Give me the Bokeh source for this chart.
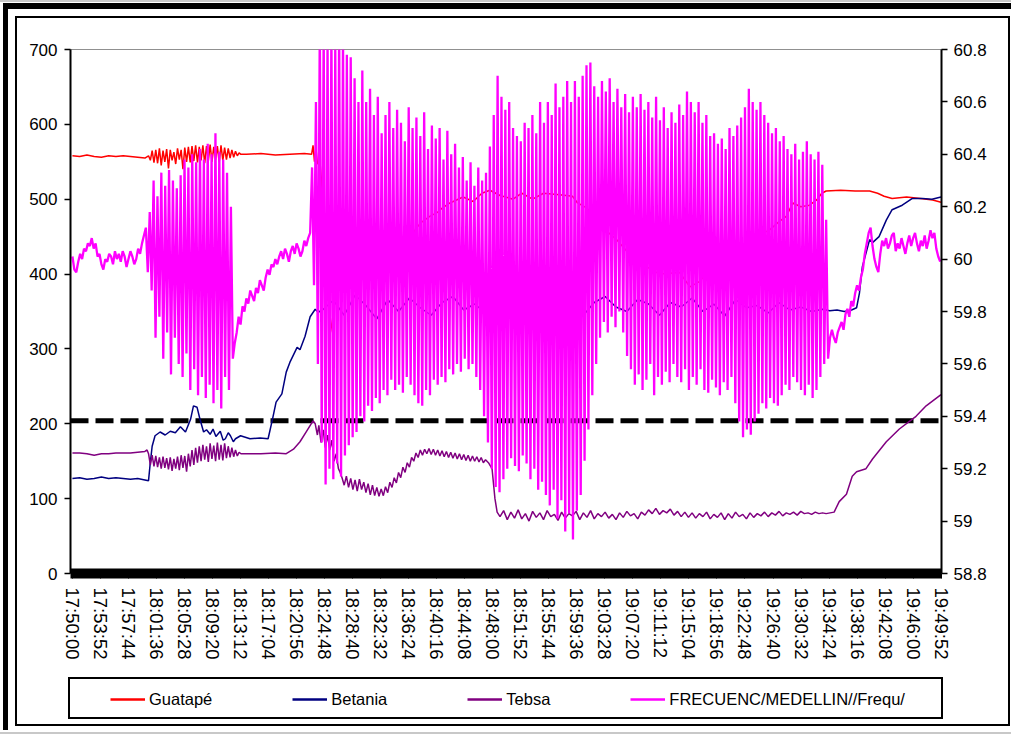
import numpy as np
from bokeh.plotting import figure
from bokeh.layouts import column
from bokeh.models import (Range1d, LinearAxis, FixedTicker, NumeralTickFormatter, Span,
                          Legend, LegendItem)
from bokeh.embed import file_html
from bokeh.resources import INLINE

# ---------------- data ----------------
START = "17:50:00"
tick_labels = ["17:50:00", "17:53:52", "17:57:44", "18:01:36", "18:05:28", "18:09:20", "18:13:12",
               "18:17:04", "18:20:56", "18:24:48", "18:28:40", "18:32:32", "18:36:24", "18:40:16",
               "18:44:08", "18:48:00", "18:51:52", "18:55:44", "18:59:36", "19:03:28", "19:07:20",
               "19:11:12", "19:15:04", "19:18:56", "19:22:48", "19:26:40", "19:30:32", "19:34:24",
               "19:38:16", "19:42:08", "19:46:00", "19:49:52"]
left_ticks = [0, 100, 200, 300, 400, 500, 600, 700]
right_ticks = [58.8, 59.0, 59.2, 59.4, 59.6, 59.8, 60.0, 60.2, 60.4, 60.6, 60.8]
threshold_mw = 204

# Guatapé (MW) – minutes after 17:50
g_pre_t = [0, 1, 2, 3, 4, 5, 6, 7, 8, 9, 10]
g_pre_v = [558, 557, 559, 557, 556, 558, 557, 558, 557, 556, 555]
g_noise_t0, g_noise_dt = 10.5, 0.25
g_noise_v = [558, 552, 565, 549, 566, 548, 568, 545, 565, 550, 567, 541, 566, 552, 563, 547, 568, 553,
             566, 540, 569, 550, 570, 549, 571, 551, 572, 549, 570, 552, 572, 548, 571, 551, 573, 550,
             570, 553, 571, 549, 572, 552, 569, 553, 568, 555, 566, 556, 564, 558, 562, 560]
g_post_t = [24, 26, 28, 30, 32, 33, 33.2, 33.4, 33.6, 33.8, 34.2, 34.8, 35.3, 35.6, 35.9, 36.5, 37.6,
            38.5, 40, 41.1, 42, 43.5, 45, 47, 48, 49.3, 50.3, 51, 52.1, 53.9, 55.3, 56.5, 57.6, 59,
            60.8, 62, 63.5, 65, 67.2, 69, 69.7, 71, 72.5, 74, 75.1, 77, 79.2, 81, 83.8, 85.2, 86.5,
            88, 90, 92, 94, 96.2, 97.5, 98.5, 99.4, 100.5, 101.7, 102.7, 103.4, 104, 106, 108, 110,
            111.1, 112, 113.1, 115.1, 117, 118.7, 119.85]
g_post_v = [560, 561, 559, 560, 561, 560, 572, 550, 568, 548, 545, 470, 380, 322, 340, 395, 402,
            415, 420, 428, 422, 438, 446, 455, 468, 477, 482, 488, 495, 503, 497, 508, 512, 505,
            500, 508, 500, 508, 506, 504, 495, 488, 470, 455, 446, 425, 410, 400, 402, 383, 390,
            405, 420, 435, 448, 459, 470, 477, 495, 490, 492, 499, 508, 511, 512, 511, 511,
            508, 504, 501, 503, 501, 499, 496]

# Betania (MW)
b_pre_t = [0, 1, 2, 3, 4, 5, 6, 7, 8, 9, 10, 10.5, 10.7, 11.0, 11.4, 12.1, 12.8, 13.5, 14.2, 14.9,
           15.6, 16.3, 16.7, 17.2, 17.6, 18.1, 18.5, 19.0, 19.4, 19.8, 20.4, 20.8, 21.1, 21.5, 21.8,
           22.2, 22.5, 23.2, 24.5, 25.9, 27.0, 27.6, 28.1, 28.9, 29.5, 30.0, 31.0, 31.4, 32.1, 32.8,
           33.5, 33.9]
b_pre_v = [127, 128, 126, 127, 129, 127, 128, 127, 126, 127, 125, 124, 144, 170, 184, 189, 185, 190,
           188, 196, 189, 206, 224, 222, 206, 189, 192, 186, 193, 183, 190, 178, 180, 188, 184, 176,
           180, 184, 180, 181, 180, 206, 229, 240, 269, 282, 302, 299, 317, 343, 353, 349]
b_mid_t0, b_mid_dt = 34.5, 1.5
b_mid_v = [352, 365, 345, 372, 358, 340, 366, 350, 368, 355, 345, 362, 370, 352, 360, 348, 372, 358,
           366, 350, 375, 360, 355, 368, 345, 362, 370, 356, 350, 366, 360, 345, 362, 356, 368, 350,
           360, 344, 366, 355, 358, 348, 362, 352, 356, 350, 353]
b_post_t = [104.5, 105.5, 106.5, 107.5, 108.2, 108.6, 109.0, 110.0, 110.4, 111.3, 112.3, 113.1,
            114.5, 115.9, 117.3, 118.6, 119.85]
b_post_v = [351, 352, 350, 352, 355, 375, 410, 446, 442, 450, 472, 486, 492, 501, 501, 500, 503]

# Tebsa (MW)
t_pre_t = [0, 1, 2, 3, 4, 5, 6, 7, 8, 9, 10, 10.3]
t_pre_v = [161, 161, 160, 158, 160, 160, 161, 161, 161, 162, 163, 165]
t_n1_t0, t_n1_dt = 10.5, 0.25
t_n1_v = [160, 145, 158, 143, 157, 142, 155, 140, 156, 141, 154, 139, 155, 137, 153, 140, 156, 138,
          158, 141, 157, 136, 160, 143, 165, 145, 168, 148, 170, 150, 172, 152, 170, 149, 174, 153,
          171, 150, 175, 152, 172, 151, 174, 154, 170, 155, 168, 156, 165, 157, 162, 160]
t_mid_t = [24, 26, 28, 29.5, 30.5, 31.4, 32.3, 33.2, 33.5, 33.8, 34.0, 34.3, 34.6, 34.9, 35.2, 35.5,
           35.8, 36.1, 36.4, 36.7, 36.9]
t_mid_v = [160, 160, 161, 160, 166, 176, 190, 204, 200, 185, 198, 175, 192, 168, 185, 165, 178, 150,
           160, 140, 136]
t_n2_t0, t_n2_dt = 37.2, 0.3
t_n2_v = [128, 118, 130, 115, 127, 112, 125, 110, 126, 112, 122, 108, 120, 105, 118, 104, 115, 103,
          113, 104, 116, 108, 122, 115, 128, 121, 135, 128, 142, 135, 148, 142, 155, 150, 161, 155,
          165, 158, 166, 160, 167, 159, 166, 158, 165, 157, 164, 156, 163, 155, 162, 154, 161, 153,
          160, 152, 159, 151, 158, 150, 157, 150, 156, 149, 155, 148, 152]
t_drop_t = [57.4, 57.9, 58.3, 58.6]
t_drop_v = [148, 140, 100, 82]
t_band_t0, t_band_dt = 59.0, 0.5
t_band_v = [76, 84, 72, 82, 74, 85, 73, 80, 70, 83, 75, 81, 72, 84, 76, 79, 71, 82, 74, 80,
            77, 83, 72, 81, 75, 84, 73, 80, 76, 82, 74, 79, 72, 81, 75, 83, 77, 80, 73, 82,
            78, 85, 80, 87, 79, 84, 81, 86, 78, 83, 76, 82, 75, 81, 74, 80, 76, 82, 73, 79,
            75, 81, 72, 80, 74, 82, 76, 79, 73, 81, 75, 80, 77, 82, 76, 81, 78, 83, 77, 81,
            79, 82, 78, 83, 80, 81, 79, 82, 80, 81, 80]
t_post_t = [105.1, 105.8, 106.8, 107.6, 108.2, 109.5, 110.4, 112.3, 114.1, 116.4, 117.8, 119.85]
t_post_v = [82, 96, 106, 130, 136, 140, 153, 176, 193, 210, 224, 239]

# FRECUENC/MEDELLIN (Hz), one sample every 16 s
FREQ_DT_S = 16
f_pre = [60.01, 59.96, 59.95, 59.99, 60.02, 60.00, 60.04, 60.03, 60.06, 60.05, 60.08, 60.04, 60.06,
         60.01, 60.02, 59.98, 59.96, 60.00, 59.99, 60.02, 60.01, 59.98, 60.03, 60.00, 60.02, 59.99,
         60.03, 60.01, 59.97, 60.00, 60.03, 60.01, 59.98, 60.00, 60.04, 60.02, 60.06, 60.09]
f_burst1 = [60.12, 59.95, 60.18, 59.88, 60.30, 59.70, 60.24, 59.78, 60.33, 59.62, 60.28, 59.72,
            60.34, 59.56, 60.30, 59.70, 60.27, 59.60, 60.32, 59.55, 60.38, 59.64, 60.35, 59.50,
            60.40, 59.58, 60.37, 59.48, 60.42, 59.55, 60.38, 59.47, 60.44, 59.52, 60.40, 59.45,
            60.48, 59.50, 60.41, 59.43, 60.38, 59.55, 60.33, 59.50, 60.20, 59.62]
f_recov = [59.68, 59.72, 59.78, 59.75, 59.82, 59.80, 59.85, 59.83, 59.88, 59.86, 59.84, 59.89,
           59.87, 59.92, 59.90, 59.88, 59.93, 59.96, 59.94, 59.98, 59.97, 60.00, 59.98, 60.01,
           60.03, 60.00, 60.04, 60.02, 59.99, 60.03, 60.05, 60.02, 60.06, 60.04, 60.01, 60.03,
           60.07, 60.05, 60.08, 60.10]
f_burst2_high = [60.35, 60.60, 60.90, 60.90, 60.85, 60.90, 60.82, 60.90, 60.86, 60.78, 60.77, 60.69,
                 60.60, 60.72, 60.60, 60.65, 60.55, 60.62, 60.48, 60.55, 60.60, 60.50, 60.57, 60.52,
                 60.45, 60.58, 60.50, 60.54, 60.47, 60.56, 60.42, 60.51, 60.46, 60.50, 60.38, 60.49,
                 60.40, 60.44, 60.35, 60.39, 60.30, 60.37, 60.28, 60.35, 60.30, 60.33, 60.43, 60.55,
                 60.70, 60.62, 60.57, 60.60, 60.50, 60.47, 60.45, 60.52, 60.50, 60.55, 60.48, 60.60,
                 60.52, 60.60, 60.55, 60.67, 60.58, 60.62, 60.68, 60.60, 60.68, 60.62, 60.70, 60.74,
                 60.75, 60.66, 60.62, 60.68, 60.64, 60.69, 60.60, 60.65, 60.58, 60.63, 60.56, 60.62,
                 60.58, 60.63, 60.57, 60.60, 60.54, 60.62, 60.53, 60.58, 60.50, 60.56, 60.52, 60.59,
                 60.55, 60.64, 60.60, 60.56, 60.60, 60.52, 60.55, 60.47, 60.48, 60.44, 60.46, 60.42,
                 60.50, 60.47, 60.51, 60.54, 60.58, 60.65, 60.60, 60.57, 60.60, 60.55, 60.52, 60.48,
                 60.50, 60.45, 60.47, 60.42, 60.40, 60.44, 60.38, 60.41, 60.45, 60.40, 60.38, 60.41,
                 60.36, 60.15]
f_burst2_low = [59.90, 59.60, 59.30, 59.14, 59.20, 59.16, 59.22, 59.17, 59.25, 59.29, 59.32, 59.34,
                59.40, 59.38, 59.44, 59.42, 59.47, 59.45, 59.50, 59.48, 59.54, 59.50, 59.52, 59.49,
                59.55, 59.52, 59.48, 59.45, 59.44, 59.50, 59.48, 59.54, 59.52, 59.55, 59.53, 59.58,
                59.56, 59.60, 59.57, 59.62, 59.58, 59.60, 59.55, 59.50, 59.40, 59.30, 59.20, 59.13,
                59.11, 59.16, 59.20, 59.24, 59.21, 59.19, 59.25, 59.22, 59.16, 59.20, 59.12, 59.15,
                59.10, 59.06, 59.12, 59.01, 59.08, 58.96, 59.03, 58.93, 59.04, 59.10, 59.23, 59.35,
                59.48, 59.60, 59.70, 59.76, 59.72, 59.78, 59.74, 59.80, 59.72, 59.63, 59.58, 59.52,
                59.56, 59.50, 59.54, 59.60, 59.48, 59.55, 59.52, 59.57, 59.53, 59.60, 59.55, 59.53,
                59.58, 59.50, 59.55, 59.52, 59.58, 59.50, 59.49, 59.54, 59.51, 59.48, 59.53, 59.50,
                59.55, 59.45, 59.38, 59.32, 59.35, 59.33, 59.38, 59.41, 59.45, 59.43, 59.47, 59.45,
                59.44, 59.48, 59.52, 59.50, 59.55, 59.53, 59.50, 59.48, 59.52, 59.47, 59.50, 59.55,
                59.60]
f_post = [59.62, 59.70, 59.73, 59.70, 59.68, 59.72, 59.74, 59.76, 59.73, 59.79, 59.81, 59.78, 59.84,
          59.82, 59.87, 59.90, 59.88, 59.93, 59.96, 60.02, 60.06, 60.10, 60.12, 60.05, 60.00, 59.97,
          59.95, 60.02, 60.07, 60.05, 60.08, 60.04, 60.06, 60.09, 60.10, 60.03, 60.06, 60.04, 60.08,
          60.05, 60.02, 60.06, 60.09, 60.05, 60.08, 60.10, 60.06, 60.03, 60.07, 60.05, 60.09, 60.04,
          60.07, 60.11, 60.08, 60.10, 60.04, 60.01, 59.99]

names = ["Guatapé", "Betania", "Tebsa", "FRECUENC/MEDELLIN//Frequ/"]
colors = ["#FF0000", "#000080", "#800080", "#FF00FF"]


# ---------------- assembly ----------------
def grid(t0, dt, vals):
    return [t0 + dt * i for i in range(len(vals))], list(vals)


def join(*parts):
    ts, vs = [], []
    for t, v in parts:
        ts += list(t)
        vs += list(v)
    return np.array(ts) * 60.0, np.array(vs)  # minutes -> seconds


def secs(hms):
    h, m, s = (int(x) for x in hms.split(":"))
    return h * 3600 + m * 60 + s


g_x, g_y = join((g_pre_t, g_pre_v), grid(g_noise_t0, g_noise_dt, g_noise_v), (g_post_t, g_post_v))
b_x, b_y = join((b_pre_t, b_pre_v), grid(b_mid_t0, b_mid_dt, b_mid_v), (b_post_t, b_post_v))
t_x, t_y = join((t_pre_t, t_pre_v), grid(t_n1_t0, t_n1_dt, t_n1_v), (t_mid_t, t_mid_v),
                grid(t_n2_t0, t_n2_dt, t_n2_v), (t_drop_t, t_drop_v),
                grid(t_band_t0, t_band_dt, t_band_v), (t_post_t, t_post_v))
burst2 = []
for i, h in enumerate(f_burst2_high):
    burst2.append(h)
    if i < len(f_burst2_low):
        burst2.append(f_burst2_low[i])
f_y = np.array(f_pre + f_burst1 + f_recov + burst2 + f_post)
f_x = np.arange(len(f_y)) * FREQ_DT_S

t0 = secs(START)
tick_pos = [secs(s) - t0 for s in tick_labels]

# ---------------- layout constants ----------------
FONT = "Liberation Sans"
W, H = 1011, 735
H_MAIN = 662
H_LEG = H - H_MAIN


def bar(x, y, w, h, c="#000"):
    return f"linear-gradient({c},{c}) {x}px {y}px / {w}px {h}px no-repeat"


frame_css = ", ".join([
    bar(0, 0, W, 2, "#c8c8c8"),            # light outer edge
    bar(3, 3, W - 3, 6),                   # thick top
    bar(3, 3, 5, H - 8),                   # thick left
    bar(15, 16, 995, 2),                   # inner box top
    bar(15, 16, 2, 710),                   # inner box left
    bar(15, 724, 995, 2),                  # inner box bottom
    bar(1008, 16, 2, 710),                 # inner box right
    bar(0, H - 3, W, 2, "#c8c8c8"),        # light bottom edge
    bar(68, 677, 875, 2),                  # legend box
    bar(68, 717, 875, 2),
    bar(68, 677, 2, 42),
    bar(941, 677, 2, 42),
]) + ", #ffffff"

# ---------------- main chart ----------------
p = figure(width=W, height=H_MAIN, output_backend="svg", toolbar_location=None,
           x_range=Range1d(-16, 7195), y_range=Range1d(0, 700),
           min_border_left=70, min_border_right=70, min_border_top=49,
           min_border_bottom=H_MAIN - 575,
           background_fill_color="white", border_fill_alpha=0)
p.grid.visible = False
p.outline_line_color = "#909090"
p.outline_line_width = 1

p.extra_y_ranges = {"freq": Range1d(58.8, 60.8)}

ya = p.yaxis[0]
ya.ticker = FixedTicker(ticks=left_ticks)
ya.axis_line_width = 2
ya.axis_line_color = "black"
ya.major_tick_out = 6
ya.major_tick_in = 0
ya.major_tick_line_width = 1.5
ya.minor_tick_out = 0
ya.minor_tick_in = 0
ya.major_label_standoff = 7
ya.major_label_text_font = FONT
ya.major_label_text_font_size = "17px"
ya.major_label_text_color = "black"

ra = LinearAxis(y_range_name="freq", ticker=FixedTicker(ticks=right_ticks),
                formatter=NumeralTickFormatter(format="0.[0]"))
ra.axis_line_width = 2
ra.major_tick_out = 6
ra.major_tick_in = 0
ra.major_tick_line_width = 1.5
ra.minor_tick_out = 0
ra.minor_tick_in = 0
ra.major_label_standoff = 6
ra.major_label_text_font = FONT
ra.major_label_text_font_size = "17px"
ra.major_label_text_color = "black"
p.add_layout(ra, "right")

xa = p.xaxis[0]
xa.ticker = FixedTicker(ticks=tick_pos)
xa.major_label_overrides = {tp: lab for tp, lab in zip(tick_pos, tick_labels)}
xa.major_label_orientation = "vertical"
xa.axis_line_width = 10
xa.axis_line_color = "black"
xa.major_tick_out = 5
xa.major_tick_in = 0
xa.minor_tick_out = 0
xa.minor_tick_in = 0
xa.major_label_standoff = 9
xa.major_label_text_font = FONT
xa.major_label_text_font_size = "18.5px"
xa.major_label_text_color = "black"

p.add_layout(Span(location=threshold_mw, dimension="width", line_color="black",
                  line_width=5, line_dash="18 7", level="underlay"))

p.line(g_x, g_y, line_color=colors[0], line_width=1.5)
p.line(b_x, b_y, line_color=colors[1], line_width=1.5)
p.line(t_x, t_y, line_color=colors[2], line_width=1.5)
p.line(f_x, f_y, line_color=colors[3], line_width=2.3, y_range_name="freq")

# ---------------- legend strip ----------------
q = figure(width=W, height=H_LEG, output_backend="svg", toolbar_location=None,
           x_range=Range1d(0, 1), y_range=Range1d(0, 1),
           min_border_left=0, min_border_right=0, min_border_top=0, min_border_bottom=0,
           background_fill_alpha=0, border_fill_alpha=0, outline_line_alpha=0)
q.axis.visible = False
q.grid.visible = False
# legend swatches: tiny off-range segments so the legend has something to draw from
leg_rs = [q.line([-5, -4], [-5, -4], line_color=c, line_width=2.5) for c in colors]
legend = Legend(items=[LegendItem(label=n, renderers=[r]) for n, r in zip(names, leg_rs)],
                orientation="horizontal", location=(30, H_LEG - 57), spacing=80,
                label_standoff=4, glyph_width=35, glyph_height=20, padding=10, margin=0,
                border_line_alpha=0, background_fill_alpha=0,
                label_text_font=FONT, label_text_font_size="16.5px", label_text_color="black")
q.add_layout(legend)

layout = column(p, q, spacing=0, styles={"background": frame_css})

open("out.html", "w").write(file_html(layout, INLINE))
